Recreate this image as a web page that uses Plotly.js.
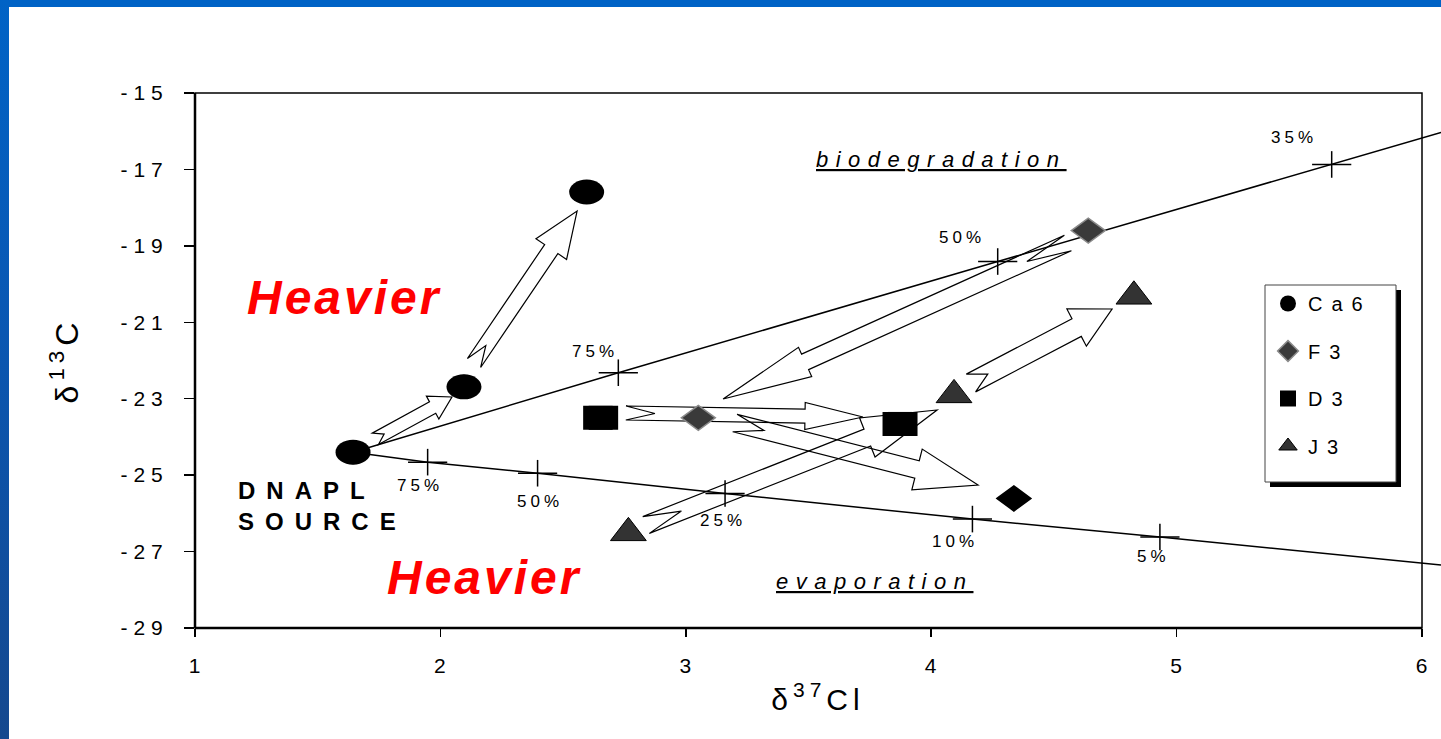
<!DOCTYPE html>
<html><head><meta charset="utf-8">
<script src="https://cdn.plot.ly/plotly-3.0.1.min.js"></script>
<style>
html,body{margin:0;padding:0;width:1441px;height:739px;overflow:hidden;background:#fff;}
#frameTop{position:absolute;left:0;top:0;width:1441px;height:7px;background:#0063c6;}
#frameLeft{position:absolute;left:0;top:0;width:9px;height:739px;background:linear-gradient(#0063c6,#0a57b2 45%,#15488e);}
#chart{position:absolute;left:9px;top:7px;width:1432px;height:732px;}
.xtick text{letter-spacing:1px}
.ytick text{letter-spacing:6px}
.legendtext{letter-spacing:9px}
.xtitle,.ytitle{letter-spacing:5px}
</style></head>
<body>
<div id="frameTop"></div><div id="frameLeft"></div>
<div id="chart"></div>
<script>
// ---------- data ----------
const ca6X = [1.644, 2.096, 2.596];
const ca6Y = [-24.40, -22.69, -17.59];
const f3X = [3.051, 4.640, 4.337];
const f3Y = [-23.50, -18.60, -25.61];
const d3X = [2.653, 3.873];
const d3Y = [-23.50, -23.66];
const j3X = [2.766, 4.093, 4.826];
const j3Y = [-26.51, -22.90, -20.32];

const bioX = [1.644, 2.725, 4.271, 5.632, 6.0775];
const bioY = [-24.40, -22.32, -19.41, -16.87, -16.03];
const evapX = [1.644, 1.948, 2.396, 3.160, 4.168, 4.932, 6.0775];
const evapY = [-24.40, -24.66, -24.95, -25.48, -26.15, -26.62, -27.35];

const bioMarkX = [2.725, 4.271, 5.632];
const bioMarkY = [-22.32, -19.41, -16.87];
const bioMarkLabels = ['75%', '50%', '35%'];
const evapMarkX = [1.948, 2.396, 3.160, 4.168, 4.932];
const evapMarkY = [-24.66, -24.95, -25.48, -26.15, -26.62];
const evapMarkLabels = ['75%', '50%', '25%', '10%', '5%'];

// arrows: from (tail) -> to (tip)
const arrowFromX = [1.735, 2.137, 2.756, 3.200, 4.557, 2.838, 4.162];
const arrowFromY = [-24.05, -22.065, -23.374, -23.636, -18.925, -26.305, -22.589];
const arrowToX = [2.047, 2.557, 3.722, 4.191, 3.152, 4.024, 4.737];
const arrowToY = [-22.955, -18.088, -23.479, -25.258, -23.008, -23.295, -20.652];

const xTickVals = [1, 2, 3, 4, 5, 6];
const xTickText = ['1', '2', '3', '4', '5', '6'];
const yTickVals = [-29, -27, -25, -23, -21, -19, -17, -15];
const yTickText = ['-29', '-27', '-25', '-23', '-21', '-19', '-17', '-15'];

// ---------- layout constants ----------
const W = 1432, H = 732;
const M = {l: 186, r: 0, t: 86, b: 111};
const PLOT_W = W - M.l - M.r, PLOT_H = H - M.t - M.b;
const X_RANGE = [1, 1 + PLOT_W / 245.4];
const Y_RANGE = [-29, -15];
const KX = PLOT_W / (X_RANGE[1] - X_RANGE[0]);
const KY = PLOT_H / (Y_RANGE[1] - Y_RANGE[0]);
const FONT = 'Arial, "Liberation Sans", sans-serif';

// arrow styles in px: [shaft width, head width, head length, notch depth]
const arrowStyle = [[13, 26, 22, 10], [16, 37, 46, 21], [14, 27, 58, 29], [18, 42, 63, 30], [17, 32, 90, 45], [18, 42, 75, 38], [20, 42, 40, 19]];

function arrowPath(x0, y0, x1, y1, st) {
  const [sw, hw, hl, nd] = st;
  const dx = (x1 - x0) * KX, dy = -(y1 - y0) * KY;
  const L = Math.hypot(dx, dy), ux = dx / L, uy = dy / L, vx = -uy, vy = ux;
  const local = [[0, sw / 2], [L - hl, sw / 2], [L - hl, hw / 2], [L, 0], [L - hl, -hw / 2], [L - hl, -sw / 2], [0, -sw / 2], [nd, 0]];
  const pts = local.map(([a, b]) => {
    const px = a * ux + b * vx, py = a * uy + b * vy;
    return [x0 + px / KX, y0 - py / KY];
  });
  return 'M' + pts.map(p => p[0].toFixed(5) + ',' + p[1].toFixed(5)).join('L') + 'Z';
}

const shapes = [];
// arrows
for (let i = 0; i < arrowFromX.length; i++) {
  shapes.push({type: 'path', xref: 'x', yref: 'y', layer: 'below',
    path: arrowPath(arrowFromX[i], arrowFromY[i], arrowToX[i], arrowToY[i], arrowStyle[i]),
    line: {color: '#000', width: 1.2}, fillcolor: 'rgba(0,0,0,0)'});
}
// wide marker bodies (the reference markers are wider than tall)
function pixShape(type, x, y, extra) {
  return Object.assign({type: type, xref: 'x', yref: 'y', xsizemode: 'pixel', ysizemode: 'pixel',
    xanchor: x, yanchor: y, layer: 'above'}, extra);
}
ca6X.forEach((x, i) => shapes.push(pixShape('circle', x, ca6Y[i], {x0: -17.5, x1: 17.5, y0: -12.5, y1: 12.5, fillcolor: '#000', line: {width: 0}})));
const f3Fill = ['#3a3a3a', '#3a3a3a', '#000'];
const f3Edge = ['#8a8a8a', '#8a8a8a', '#000'];
f3X.forEach((x, i) => shapes.push(pixShape('path', x, f3Y[i], {path: 'M-17,0L0,12.5L17,0L0,-12.5Z', fillcolor: f3Fill[i], line: {color: f3Edge[i], width: 1.5}})));
d3X.forEach((x, i) => shapes.push(pixShape('rect', x, d3Y[i], {x0: -17.5, x1: 17.5, y0: -12, y1: 12, fillcolor: '#000', line: {width: 0}})));

// plot frame (paper refs so the stroke is not clipped)
const x6 = (6 - X_RANGE[0]) / (X_RANGE[1] - X_RANGE[0]);
shapes.push({type: 'rect', xref: 'paper', yref: 'paper', x0: 0, x1: x6, y0: 0, y1: 1, line: {color: '#000', width: 1.5}, layer: 'above'});
shapes.push({type: 'line', xref: 'paper', yref: 'paper', x0: 0, x1: 0, y0: 0, y1: 1, line: {color: '#000', width: 2.5}, layer: 'above'});
shapes.push({type: 'line', xref: 'paper', yref: 'paper', x0: 0, x1: x6, y0: 0, y1: 0, line: {color: '#000', width: 2.5}, layer: 'above'});

// legend box with shadow
function px2paperX(p) { return (p - 9 - M.l) / PLOT_W; }
function px2paperY(p) { return (H - M.b - (p - 7)) / PLOT_H; }
shapes.push({type: 'rect', xref: 'paper', yref: 'paper', x0: px2paperX(1270), x1: px2paperX(1401), y0: px2paperY(487), y1: px2paperY(290), fillcolor: '#000', line: {width: 0}, layer: 'above'});
shapes.push({type: 'rect', xref: 'paper', yref: 'paper', x0: px2paperX(1265), x1: px2paperX(1396), y0: px2paperY(482), y1: px2paperY(285), fillcolor: '#fff', line: {color: '#444', width: 1}, layer: 'above'});

// ---------- traces ----------
const traces = [
  {x: bioX, y: bioY, mode: 'lines', line: {color: '#000', width: 1.5}, showlegend: false, hoverinfo: 'skip'},
  {x: evapX, y: evapY, mode: 'lines', line: {color: '#000', width: 1.5}, showlegend: false, hoverinfo: 'skip'},
  {x: bioMarkX.concat(evapMarkX), y: bioMarkY.concat(evapMarkY), mode: 'markers', showlegend: false, hoverinfo: 'skip',
    marker: {symbol: 'line-ew', size: 28, color: '#000', line: {color: '#000', width: 1.5}}},
  {x: bioMarkX.concat(evapMarkX), y: bioMarkY.concat(evapMarkY), mode: 'markers', showlegend: false, hoverinfo: 'skip',
    marker: {symbol: 'line-ns', size: 19, color: '#000', line: {color: '#000', width: 1.5}}},
  {name: 'Ca6', x: ca6X, y: ca6Y, mode: 'markers', legendgroup: 'a', marker: {symbol: 'circle', size: 24, color: '#000'}},
  {name: 'F3', x: f3X, y: f3Y, mode: 'markers', legendgroup: 'b', marker: {symbol: 'diamond', size: 18, color: f3Fill, line: {color: f3Edge, width: 1.5}}},
  {name: 'D3', x: d3X, y: d3Y, mode: 'markers', legendgroup: 'c', marker: {symbol: 'square', size: 24, color: '#000'}},
  {name: 'J3', x: j3X, y: j3Y, mode: 'markers', legendgroup: 'd', marker: {symbol: 'triangle-up', size: 31, color: '#333', line: {color: '#000', width: 1}}}
];

// ---------- annotations ----------
const annotations = [];
const bioShift = [[-25, 21], [-38, 24], [-40, 27]];
const evapShift = [[-10, -23], [0, -28], [-4, -27], [-19, -22], [-8, -19]];
function pct(x, y, t, s) {
  annotations.push({x: x, y: y, xref: 'x', yref: 'y', text: '<span style="letter-spacing:4px">' + t + '</span>',
    showarrow: false, xshift: s[0] + 2, yshift: s[1], font: {family: FONT, size: 17, color: '#000'}});
}
bioMarkX.forEach((x, i) => pct(x, bioMarkY[i], bioMarkLabels[i], bioShift[i]));
evapMarkX.forEach((x, i) => pct(x, evapMarkY[i], evapMarkLabels[i], evapShift[i]));

annotations.push({x: 1.204, y: -20.36, xref: 'x', yref: 'y', xanchor: 'left', showarrow: false,
  text: '<span style="letter-spacing:3px">Heavier</span>', font: {family: FONT, size: 48, color: '#ff0000', weight: 'bold', style: 'italic'}});
annotations.push({x: 1.774, y: -27.67, xref: 'x', yref: 'y', xanchor: 'left', showarrow: false,
  text: '<span style="letter-spacing:3px">Heavier</span>', font: {family: FONT, size: 48, color: '#ff0000', weight: 'bold', style: 'italic'}});
annotations.push({x: 4.04, y: -16.75, xref: 'x', yref: 'y', showarrow: false,
  text: '<span style="letter-spacing:7.5px"><u>biodegradation</u></span>', font: {family: FONT, size: 22, color: '#000', style: 'italic'}});
annotations.push({x: 3.767, y: -27.77, xref: 'x', yref: 'y', showarrow: false,
  text: '<span style="letter-spacing:7.5px"><u>evaporation</u></span>', font: {family: FONT, size: 22, color: '#000', style: 'italic'}});
annotations.push({x: 1.167, y: -25.81, xref: 'x', yref: 'y', xanchor: 'left', align: 'left', showarrow: false,
  text: '<span style="letter-spacing:11px">DNAPL<br>SOURCE</span>', font: {family: FONT, size: 24, color: '#000', weight: 'bold'}});

const layout = {
  width: W, height: H, margin: M,
  paper_bgcolor: '#fff', plot_bgcolor: '#fff',
  font: {family: FONT, color: '#000'},
  xaxis: {range: X_RANGE, tickvals: xTickVals, ticktext: xTickText, ticks: 'outside', ticklen: 8, tickwidth: 1.5, tickcolor: '#000',
    showgrid: false, zeroline: false, showline: false, tickfont: {size: 21, family: FONT, color: '#000'}, ticklabelstandoff: 11,
    title: {text: 'δ<sup>37</sup>Cl', font: {size: 30, family: FONT}, standoff: 12}},
  yaxis: {range: Y_RANGE, tickvals: yTickVals, ticktext: yTickText, ticks: 'outside', ticklen: 10, tickwidth: 1.5, tickcolor: '#000',
    showgrid: false, zeroline: false, showline: false, tickfont: {size: 21, family: FONT, color: '#000'}, ticklabelstandoff: 11,
    title: {text: 'δ<sup>13</sup>C', font: {size: 32, family: FONT}, standoff: 32}},
  showlegend: true,
  legend: {x: px2paperX(1268), xanchor: 'left', y: px2paperY(284), yanchor: 'top', bgcolor: 'rgba(0,0,0,0)', borderwidth: 0,
    font: {size: 20, family: FONT, color: '#000'}, traceorder: 'grouped', tracegroupgap: 18.5},
  shapes: shapes, annotations: annotations
};

Plotly.newPlot('chart', traces, layout, {displayModeBar: false, staticPlot: true});
</script>
</body></html>
